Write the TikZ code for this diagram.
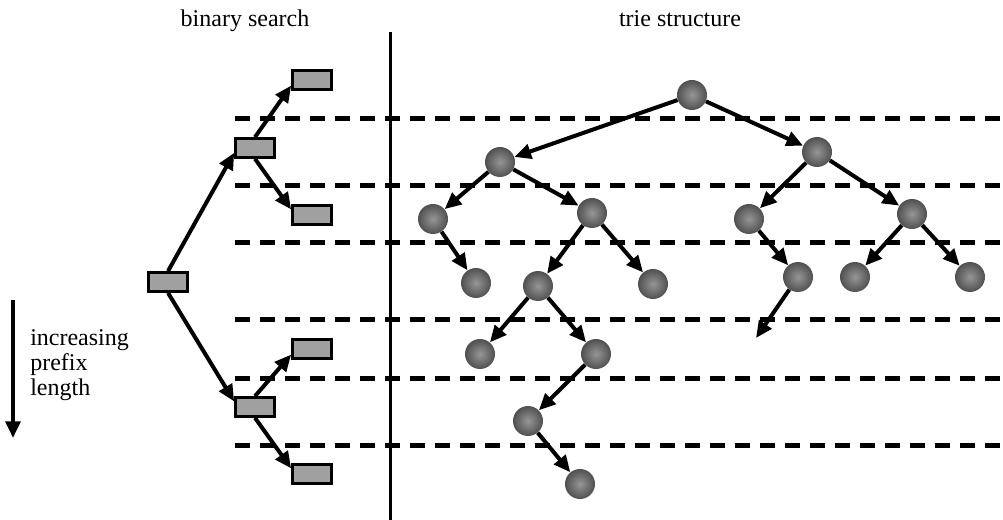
\documentclass[tikz,border=0pt]{standalone}
\usepackage{fontspec}
\setmainfont{Liberation Serif}
\usetikzlibrary{arrows.meta}
\begin{document}
\begin{tikzpicture}[x=0.75pt,y=-0.75pt,
  lbl/.style={font=\fontsize{18}{18.75}\selectfont, inner sep=0pt},
  level/.style={line width=3.75pt, dash pattern=on 11.25pt off 7.5pt},
  sbox/.style={draw, line width=2.25pt, fill={rgb,255:red,160;green,160;blue,160},
    minimum width=29pt, minimum height=14pt, inner sep=0pt},
  tnode/.style={circle, minimum size=22.5pt, inner sep=0pt,
    inner color={rgb,255:red,150;green,150;blue,150},
    outer color={rgb,255:red,80;green,80;blue,80}},
  arr/.style={line width=3pt, -{Triangle[length=12.5pt,width=11pt]}}
]
\useasboundingbox (0,0) rectangle (1003,520);

% headings and divider
\node[lbl, anchor=base] (hbs) at (245,27) {binary search};
\node[lbl, anchor=base] (hts) at (680,27) {trie structure};
\coordinate (dtop) at (390,32);
\coordinate (dbot) at (390,520);
\draw[line width=2.25pt] (dtop) -- (dbot);

% prefix-length levels
\foreach \y/\n in {119/a,186/b,243/c,320/d,378/e,445/f} {
  \coordinate (l\n0) at (235,\y);
  \coordinate (l\n1) at (1003,\y);
  \draw[level] (l\n0) -- (l\n1);
}

% direction of increasing prefix length
\coordinate (ptop) at (13,300);
\coordinate (pbot) at (13,438);
\draw[arr] (ptop) -- (pbot);
\node[lbl, anchor=west, align=left] (plab) at (30,365) {increasing\\prefix\\length};

% binary search over lengths
\node[sbox] (b0) at (168,282) {};
\node[sbox] (b1) at (255,148) {};
\node[sbox] (b2) at (255,407) {};
\node[sbox] (b3) at (312,80) {};
\node[sbox] (b4) at (312,215) {};
\node[sbox] (b5) at (312,349) {};
\node[sbox] (b6) at (312,474) {};
\draw[arr] (b0.north) -- (b1.193);
\draw[arr] (b0.south) -- (b2.165);
\draw[arr] (b1.north) -- (b3.195);
\draw[arr] (b1.south) -- (b4.165);
\draw[arr] (b2.north) -- (b5.195);
\draw[arr] (b2.south) -- (b6.165);

% trie
\node[tnode] (t)   at (692,95) {};
\node[tnode] (t0)  at (500,162) {};
\node[tnode] (t1)  at (817,152) {};
\node[tnode] (t00) at (433,219) {};
\node[tnode] (t01) at (592,213) {};
\node[tnode] (t10) at (749,219) {};
\node[tnode] (t11) at (912,214) {};
\node[tnode] (t001) at (476,283) {};
\node[tnode] (t010) at (538,286) {};
\node[tnode] (t011) at (653,284) {};
\node[tnode] (t101) at (798,277) {};
\node[tnode] (t110) at (855,277) {};
\node[tnode] (t111) at (970,277) {};
\node[tnode] (t0100) at (480,354) {};
\node[tnode] (t0101) at (596,354) {};
\node[tnode] (t01010) at (528,421) {};
\node[tnode] (t010101) at (580,484) {};
\coordinate (t1010) at (756,338);

\draw[arr] (t) -- (t0);
\draw[arr] (t) -- (t1);
\draw[arr] (t0) -- (t00);
\draw[arr] (t0) -- (t01);
\draw[arr] (t00) -- (t001);
\draw[arr] (t01) -- (t010);
\draw[arr] (t01) -- (t011);
\draw[arr] (t010) -- (t0100);
\draw[arr] (t010) -- (t0101);
\draw[arr] (t0101) -- (t01010);
\draw[arr] (t01010) -- (t010101);
\draw[arr] (t1) -- (t10);
\draw[arr] (t1) -- (t11);
\draw[arr] (t10) -- (t101);
\draw[arr] (t11) -- (t110);
\draw[arr] (t11) -- (t111);
\draw[arr] (t101) -- (t1010);
\end{tikzpicture}
\end{document}
